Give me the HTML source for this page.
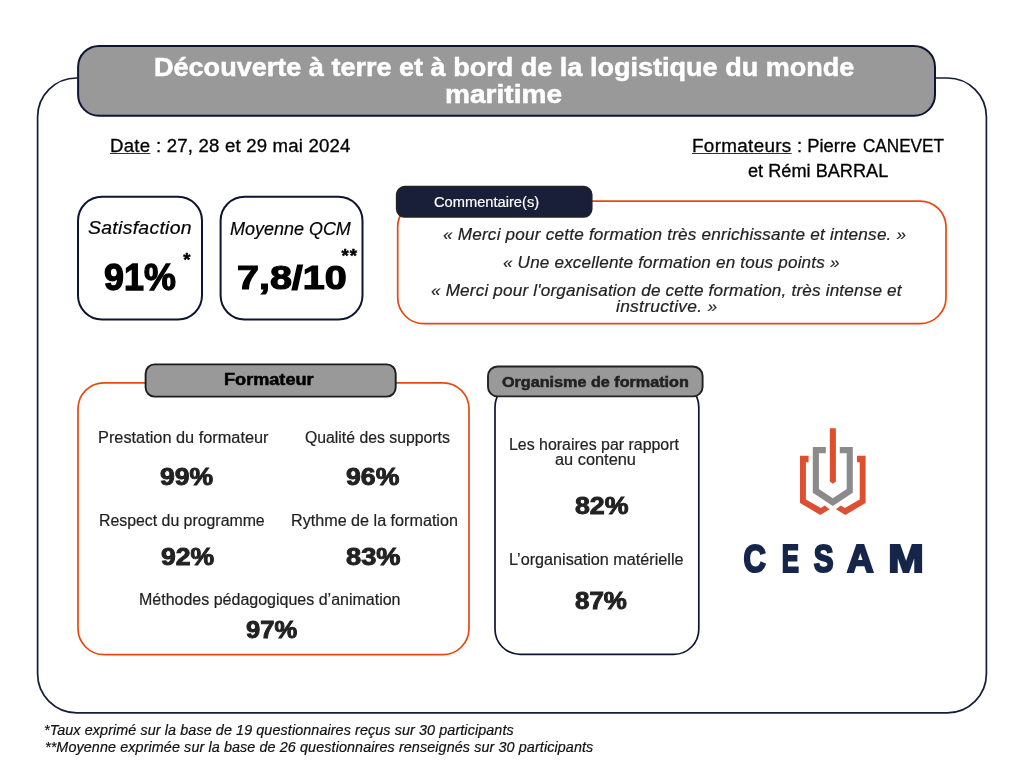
<!DOCTYPE html>
<html lang="fr"><head><meta charset="utf-8"><title>Bilan de formation</title>
<style>
html,body{margin:0;padding:0;background:#fff;}
body{width:1024px;height:768px;position:relative;overflow:hidden;font-family:"Liberation Sans",sans-serif;}
.shapes{position:absolute;left:0;top:0;}
.t{position:absolute;white-space:nowrap;line-height:1;transform-origin:0 100%;display:block;}
.t u{text-decoration-thickness:1.1px;text-underline-offset:0.6px;text-decoration-color:#333;}
.ast{position:absolute;font-weight:bold;line-height:1;color:#000;white-space:nowrap;-webkit-text-stroke:0.5px #000;}
</style></head><body>
<svg class="shapes" width="1024" height="768" viewBox="0 0 1024 768">
<rect x="37.6" y="78" width="948.8" height="634.8" rx="39" fill="none" stroke="#141c3a" stroke-width="1.7"/>
<rect x="78.1" y="45.9" width="856.9" height="69.9" rx="21" fill="#999999" stroke="#0d1532" stroke-width="2"/>
<rect x="78" y="196.8" width="124" height="122.8" rx="24" fill="#fff" stroke="#0d1532" stroke-width="2"/>
<rect x="220.6" y="196.8" width="141.9" height="122.8" rx="24" fill="#fff" stroke="#0d1532" stroke-width="2"/>
<rect x="397.7" y="201.1" width="548.3" height="122.5" rx="26" fill="#fff" stroke="#e7480f" stroke-width="1.7"/>
<rect x="396.6" y="186.6" width="195.2" height="30.5" rx="8" fill="#191f38" stroke="#222" stroke-width="1.5"/>
<rect x="78" y="382.8" width="391" height="271.8" rx="26" fill="#fff" stroke="#e7480f" stroke-width="1.7"/>
<rect x="145.6" y="364.4" width="250.1" height="32.2" rx="9" fill="#999999" stroke="#1c1c1c" stroke-width="1.9"/>
<rect x="495" y="382" width="203.8" height="272.3" rx="25" fill="#fff" stroke="#0d1532" stroke-width="1.7"/>
<rect x="488" y="366.5" width="214.6" height="29.9" rx="9.5" fill="#999999" stroke="#222" stroke-width="1.9"/>
<polygon points="800.0,455.8 808.6,455.8 808.6,462.2 805.9,462.2 805.9,499.4 820.8,507.9 824.8,505.6 829.6,509.2 820.3,514.9 800.0,503.0" fill="#de4f31"/>
<polygon points="865.6,455.8 857.0,455.8 857.0,462.2 859.7,462.2 859.7,499.4 844.8,507.9 840.8,505.6 836.0,509.2 845.3,514.9 865.6,503.0" fill="#de4f31"/>
<polygon points="812.8,446.9 825.8,446.9 825.8,453.2 818.9,453.2 818.9,489.0 832.8,498.3 846.7,489.0 846.7,453.2 839.8,453.2 839.8,446.9 852.8,446.9 852.8,492.7 832.8,506.0 812.8,492.7" fill="#8b8b8b"/>
<polygon points="829.8,428.2 835.9,428.2 835.9,481.5 832.9,483.8 829.8,481.5" fill="#de4f31"/>
<g font-family="Liberation Sans, sans-serif" font-weight="bold" font-size="38.5" fill="#16254a" stroke="#16254a" stroke-width="2.2" stroke-linejoin="miter" stroke-miterlimit="2.5">
<text transform="translate(743.50 572.2) scale(0.8038 1)">C</text>
<text transform="translate(781.66 572.2) scale(0.6696 1)">E</text>
<text transform="translate(813.83 572.2) scale(0.7708 1)">S</text>
<text transform="translate(847.10 572.2) scale(0.9556 1)">A</text>
<text transform="translate(888.19 572.2) scale(1.1071 1)">M</text>
</g>
</svg>
<span class="t" style="left:154.0px;top:55px;font-size:25.0px;color:#fff;transform:scaleX(1.0819);font-weight:bold;-webkit-text-stroke:0.5px #fff;">Découverte à terre et à bord de la logistique du monde</span>
<span class="t" style="left:445.1px;top:82px;font-size:25.0px;color:#fff;transform:scaleX(1.1229);font-weight:bold;-webkit-text-stroke:0.5px #fff;">maritime</span>
<span class="t" style="left:110.3px;top:137px;font-size:18.0px;color:#000;transform:scaleX(1.0322);letter-spacing:0.264px;-webkit-text-stroke:0.3px #000;"><u>Date</u></span>
<span class="t" style="left:155.6px;top:137px;font-size:18.0px;color:#000;transform:scaleX(1.0334);letter-spacing:0.180px;-webkit-text-stroke:0.3px #000;">: 27, 28 et 29 mai 2024</span>
<span class="t" style="left:692.0px;top:137px;font-size:18.0px;color:#000;transform:scaleX(1.0473);letter-spacing:0.308px;-webkit-text-stroke:0.3px #000;"><u>Formateurs</u></span>
<span class="t" style="left:796.9px;top:137px;font-size:18.0px;color:#000;transform:scaleX(1.0227);-webkit-text-stroke:0.3px #000;">: Pierre</span>
<span class="t" style="left:862.9px;top:137px;font-size:18.0px;color:#000;transform:scaleX(0.9515);-webkit-text-stroke:0.3px #000;">CANEVET</span>
<span class="t" style="left:747.9px;top:162px;font-size:18.0px;color:#000;transform:scaleX(1.0091);-webkit-text-stroke:0.3px #000;">et Rémi BARRAL</span>
<span class="t" style="left:87.8px;top:219px;font-size:18.5px;color:#000;transform:scaleX(1.0501);letter-spacing:0.276px;font-style:italic;-webkit-text-stroke:0.2px #000;">Satisfaction</span>
<span class="t" style="left:103.5px;top:260px;font-size:36.5px;color:#000;transform:scaleX(0.9833);font-weight:bold;-webkit-text-stroke:1.3px #000;">91%</span>
<span class="t" style="left:230.1px;top:220px;font-size:18.5px;color:#000;transform:scaleX(0.9712);font-style:italic;-webkit-text-stroke:0.2px #000;">Moyenne QCM</span>
<span class="t" style="left:237.0px;top:262px;font-size:32.5px;color:#000;transform:scaleX(1.2143);font-weight:bold;-webkit-text-stroke:1.2px #000;">7,8/10</span>
<span class="t" style="left:434.4px;top:194px;font-size:15.0px;color:#fff;transform:scaleX(0.9775);-webkit-text-stroke:0.2px #fff;">Commentaire(s)</span>
<span class="t" style="left:442.9px;top:226px;font-size:16.5px;color:#222;transform:scaleX(1.0405);letter-spacing:0.188px;font-style:italic;-webkit-text-stroke:0.2px #222;">« Merci pour cette formation très enrichissante et intense. »</span>
<span class="t" style="left:503.1px;top:254px;font-size:16.5px;color:#222;transform:scaleX(1.0360);letter-spacing:0.175px;font-style:italic;-webkit-text-stroke:0.2px #222;">« Une excellente formation en tous points »</span>
<span class="t" style="left:430.6px;top:282px;font-size:16.5px;color:#222;transform:scaleX(1.0381);letter-spacing:0.175px;font-style:italic;-webkit-text-stroke:0.2px #222;">« Merci pour l&#x27;organisation de cette formation, très intense et</span>
<span class="t" style="left:615.7px;top:298px;font-size:16.5px;color:#222;transform:scaleX(1.0549);letter-spacing:0.247px;font-style:italic;-webkit-text-stroke:0.2px #222;">instructive. »</span>
<span class="t" style="left:224.0px;top:372px;font-size:16.0px;color:#000;transform:scaleX(1.1322);font-weight:bold;-webkit-text-stroke:0.5px #000;">Formateur</span>
<span class="t" style="left:502.2px;top:375px;font-size:14.5px;color:#222;transform:scaleX(1.1150);font-weight:bold;-webkit-text-stroke:0.5px #222;">Organisme de formation</span>
<span class="t" style="left:98.2px;top:430px;font-size:16.0px;color:#222;transform:scaleX(1.0200);-webkit-text-stroke:0.2px #222;">Prestation du formateur</span>
<span class="t" style="left:304.6px;top:430px;font-size:16.0px;color:#222;transform:scaleX(0.9867);-webkit-text-stroke:0.2px #222;">Qualité des supports</span>
<span class="t" style="left:160.1px;top:466px;font-size:23px;color:#222;transform:scaleX(1.1539);font-weight:bold;-webkit-text-stroke:0.9px #222;">99%</span>
<span class="t" style="left:346.3px;top:466px;font-size:23px;color:#222;transform:scaleX(1.1583);font-weight:bold;-webkit-text-stroke:0.9px #222;">96%</span>
<span class="t" style="left:98.5px;top:513px;font-size:16.0px;color:#222;transform:scaleX(0.9910);-webkit-text-stroke:0.2px #222;">Respect du programme</span>
<span class="t" style="left:291.0px;top:513px;font-size:16.0px;color:#222;transform:scaleX(1.0091);-webkit-text-stroke:0.2px #222;">Rythme de la formation</span>
<span class="t" style="left:161.2px;top:546px;font-size:23px;color:#222;transform:scaleX(1.1561);font-weight:bold;-webkit-text-stroke:0.9px #222;">92%</span>
<span class="t" style="left:346.4px;top:546px;font-size:23px;color:#222;transform:scaleX(1.1825);font-weight:bold;-webkit-text-stroke:0.9px #222;">83%</span>
<span class="t" style="left:138.5px;top:592px;font-size:16.0px;color:#222;transform:scaleX(0.9999);-webkit-text-stroke:0.2px #222;">Méthodes pédagogiques d’animation</span>
<span class="t" style="left:246.0px;top:619px;font-size:23px;color:#222;transform:scaleX(1.1101);font-weight:bold;-webkit-text-stroke:0.9px #222;">97%</span>
<span class="t" style="left:509.4px;top:437px;font-size:16.0px;color:#222;transform:scaleX(0.9952);-webkit-text-stroke:0.2px #222;">Les horaires par rapport</span>
<span class="t" style="left:554.9px;top:452px;font-size:16.0px;color:#222;transform:scaleX(1.0220);-webkit-text-stroke:0.2px #222;">au contenu</span>
<span class="t" style="left:574.8px;top:495px;font-size:23px;color:#222;transform:scaleX(1.1627);font-weight:bold;-webkit-text-stroke:0.9px #222;">82%</span>
<span class="t" style="left:509.0px;top:552px;font-size:16.0px;color:#222;transform:scaleX(1.0114);-webkit-text-stroke:0.2px #222;">L’organisation matérielle</span>
<span class="t" style="left:575.2px;top:590px;font-size:23px;color:#222;transform:scaleX(1.1276);font-weight:bold;-webkit-text-stroke:0.9px #222;">87%</span>
<span class="t" style="left:43.9px;top:723px;font-size:14.0px;color:#111;transform:scaleX(1.0240);letter-spacing:0.099px;font-style:italic;-webkit-text-stroke:0.2px #111;">*Taux exprimé sur la base de 19 questionnaires reçus sur 30 participants</span>
<span class="t" style="left:45.3px;top:740px;font-size:14.0px;color:#111;transform:scaleX(1.0244);letter-spacing:0.103px;font-style:italic;-webkit-text-stroke:0.2px #111;">**Moyenne exprimée sur la base de 26 questionnaires renseignés sur 30 participants</span>
<span class="ast" style="left:183.2px;top:250.5px;font-size:18.5px;">*</span>
<span class="ast" style="left:341.5px;top:246.5px;font-size:18.5px;letter-spacing:1px;">**</span>
</body></html>
